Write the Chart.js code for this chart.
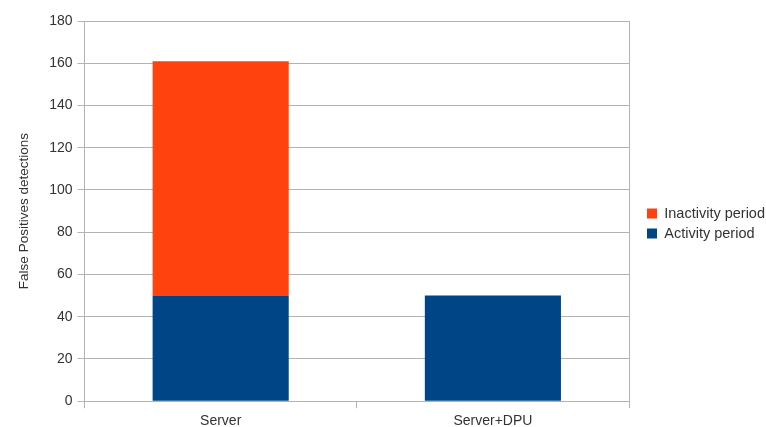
<!DOCTYPE html>
<html>
<head>
<meta charset="utf-8">
<script src="https://cdn.jsdelivr.net/npm/chart.js@4/dist/chart.umd.min.js"></script>
<style>
  html, body { margin: 0; padding: 0; background: #fff; }
  #wrap { width: 766px; height: 427px; }
</style>
</head>
<body>
<div id="wrap"><canvas id="chart" width="766" height="427"></canvas></div>
<script>
const categories = ['Server', 'Server+DPU'];
const activity = [50, 50];
const inactivity = [111, 0];
const yTicks = [0, 20, 40, 60, 80, 100, 120, 140, 160, 180];

const gridGray = '#b3b3b3';
const textGray = '#333333';

// nudge the legend: extra gap on its left, sits a bit higher
const legendShift = {
    id: 'legendShift',
    afterInit(chart) {
        const lg = chart.legend;
        const fit = lg.fit;
        const draw = lg.draw;
        const dx = 12.5, dy = -9;
        lg.fit = function () { fit.call(this); this.width += dx; };
        lg.draw = function () {
            this.left += dx; this.top += dy;
            draw.call(this);
            this.left -= dx; this.top -= dy;
        };
    }
};

new Chart(document.querySelector('#chart').getContext('2d'), {
    type: 'bar',
    data: {
        labels: categories,
        datasets: [
            {
                label: 'Activity period',
                data: activity,
                backgroundColor: '#004586',
                borderWidth: 0
            },
            {
                label: 'Inactivity period',
                data: inactivity,
                backgroundColor: '#ff420e',
                borderWidth: 0
            }
        ]
    },
    plugins: [legendShift],
    options: {
        responsive: false,
        animation: false,
        layout: { padding: { top: 21, right: -9, bottom: -8, left: 16 } },
        datasets: { bar: { barPercentage: 0.5, categoryPercentage: 1.0 } },
        plugins: {
            tooltip: { enabled: false },
            legend: {
                position: 'right',
                reverse: true,
                labels: {
                    boxWidth: 10,
                    boxHeight: 10,
                    padding: 5.5,
                    color: textGray,
                    font: { family: 'Liberation Sans', size: 14.5 }
                }
            }
        },
        scales: {
            x: {
                stacked: true,
                offset: true,
                border: { color: gridGray },
                grid: {
                    offset: true,
                    drawOnChartArea: true,
                    color: ctx => (ctx.index === 1 ? 'rgba(0,0,0,0)' : gridGray),
                    tickColor: gridGray,
                    tickLength: 7
                },
                ticks: {
                    color: textGray,
                    padding: 5,
                    font: { family: 'Liberation Sans', size: 14 }
                }
            },
            y: {
                stacked: true,
                min: yTicks[0],
                max: yTicks[yTicks.length - 1],
                border: { color: gridGray },
                grid: { color: gridGray, tickLength: 7 },
                afterBuildTicks: axis => { axis.ticks = yTicks.map(v => ({ value: v })); },
                ticks: {
                    color: textGray,
                    padding: 5,
                    font: { family: 'Liberation Sans', size: 14 }
                },
                title: {
                    display: true,
                    text: 'False Positives detections',
                    color: textGray,
                    padding: { top: 0, bottom: 12 },
                    font: { family: 'Liberation Sans', size: 13.5 }
                }
            }
        }
    }
});
</script>
</body>
</html>
